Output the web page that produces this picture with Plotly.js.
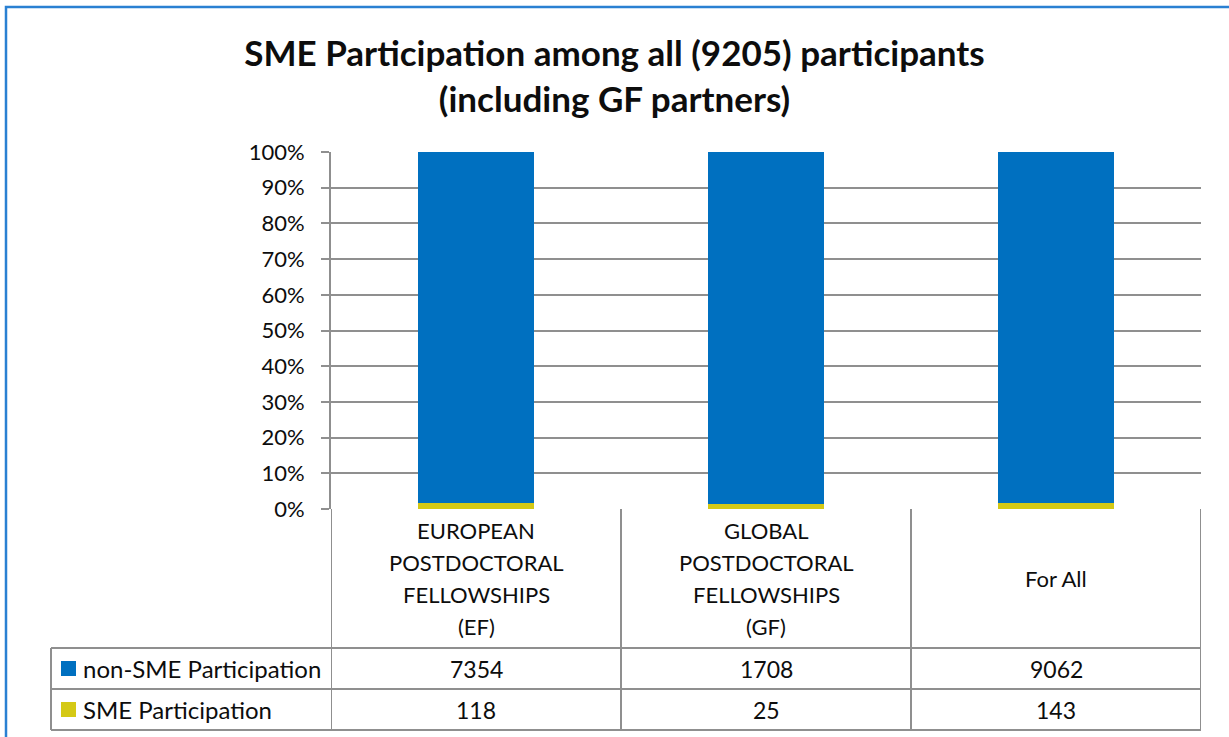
<!DOCTYPE html>
<html>
<head>
<meta charset="utf-8">
<script src="https://cdn.plot.ly/plotly-3.0.1.min.js"></script>
<style>html,body{margin:0;padding:0;background:#fff;}#chart{width:1229px;height:737px;}</style>
</head>
<body>
<div id="chart"></div>
<script>
// ---- data ----
const categories = ["EF", "GF", "For All"];
const categoryLabels = [
  ["EUROPEAN", "POSTDOCTORAL", "FELLOWSHIPS", "(EF)"],
  ["GLOBAL", "POSTDOCTORAL", "FELLOWSHIPS", "(GF)"],
  ["For All"]
];
const seriesNames = ["non-SME Participation", "SME Participation"];
const nonSME = [7354, 1708, 9062];
const sme = [118, 25, 143];
const yTickVals = [0, 10, 20, 30, 40, 50, 60, 70, 80, 90, 100];
const yTickText = yTickVals.map(v => v + "%");
const titleText = "SME Participation among all (9205) participants<br>(including GF partners)";

// ---- styling / layout ----
const W = 1229, H = 737;
const L = 331, R = 1201, T = 152, B = 509;
const blue = "#0070C0", yellow = "#D5C915", grid = "#8f8f8f", txt = "#0d0d0d";
const FONT = "Lato, 'Open Sans', sans-serif";
const px = x => (x - L) / (R - L);
const py = y => (B - y) / (B - T);

const traces = [
  {type: "bar", name: seriesNames[1], x: categories, y: sme, marker: {color: yellow}, hoverinfo: "skip"},
  {type: "bar", name: seriesNames[0], x: categories, y: nonSME, marker: {color: blue}, hoverinfo: "skip"}
];

const shapes = [];
const annotations = [];
const line = (x0, y0, x1, y1, xref) => shapes.push({type: "line", xref: xref || "paper", yref: "paper",
  x0: x0, y0: y0, x1: x1, y1: y1, line: {color: grid, width: 2}, layer: "above"});

// outer frame
shapes.push({type: "rect", xref: "paper", yref: "paper", x0: px(6), y0: py(7), x1: px(1260), y1: py(760),
  line: {color: "#2a80d2", width: 2.5}, layer: "below"});

// table rows
const rowTop = 648, rowMid = 689, rowBot = 730;
[rowTop, rowMid, rowBot].forEach(y => line(px(51), py(y), 1, py(y)));
line(px(51), py(rowTop), px(51), py(rowBot));
// category dividers (at category boundaries)
for (let i = 0; i <= categories.length; i++) {
  line(i - 0.5, py(B), i - 0.5, py(rowBot), "x");
}

// category labels
const lineGap = 32, labelCenter = (B + rowTop) / 2;
categoryLabels.forEach((lines, i) => {
  lines.forEach((s, k) => {
    const y = labelCenter + (k - (lines.length - 1) / 2) * lineGap;
    annotations.push({xref: "x", yref: "paper", x: categories[i], y: py(y), text: s, showarrow: false,
      xanchor: "center", yanchor: "middle", font: {family: FONT, size: 22, color: txt}});
  });
});

// legend rows + values
const rows = [{name: seriesNames[0], color: blue, vals: nonSME, yc: (rowTop + rowMid) / 2},
              {name: seriesNames[1], color: yellow, vals: sme, yc: (rowMid + rowBot) / 2}];
rows.forEach(r => {
  shapes.push({type: "rect", xref: "paper", yref: "paper", x0: px(61), x1: px(76), y0: py(r.yc - 7.5), y1: py(r.yc + 7.5),
    fillcolor: r.color, line: {width: 0}});
  annotations.push({xref: "paper", yref: "paper", x: px(81), y: py(r.yc), text: r.name, showarrow: false,
    xanchor: "left", yanchor: "middle", font: {family: FONT, size: 24, color: txt}});
  r.vals.forEach((v, i) => annotations.push({xref: "x", yref: "paper", x: categories[i], y: py(r.yc), text: String(v),
    showarrow: false, xanchor: "center", yanchor: "middle", font: {family: FONT, size: 23, color: txt}}));
});

const layout = {
  width: W, height: H,
  margin: {l: L, r: W - R, t: T, b: H - B, pad: 0},
  paper_bgcolor: "#fff", plot_bgcolor: "#fff",
  barmode: "stack", barnorm: "percent", bargap: 0.6,
  showlegend: false,
  title: {text: titleText, x: 0.5, xref: "container", xanchor: "center", y: 1 - 66 / H, yanchor: "middle",
    font: {family: FONT, size: 35, color: txt, weight: "bold"}},
  xaxis: {type: "category", showticklabels: false, ticks: "", showgrid: false, zeroline: false, showline: false,
    range: [-0.5, categories.length - 0.5], fixedrange: true},
  yaxis: {range: [0, 100], tickmode: "array", tickvals: yTickVals, ticktext: yTickText, ticks: "outside", ticklen: 8,
    tickcolor: grid, tickwidth: 2,
    showgrid: true, gridcolor: grid, gridwidth: 2, showline: true, linecolor: grid, linewidth: 2, zeroline: false,
    tickfont: {family: FONT, size: 22, color: txt}, ticklabelstandoff: 12, fixedrange: true},
  shapes: shapes,
  annotations: annotations
};

Plotly.newPlot("chart", traces, layout, {displayModeBar: false, staticPlot: true});
</script>
</body>
</html>
